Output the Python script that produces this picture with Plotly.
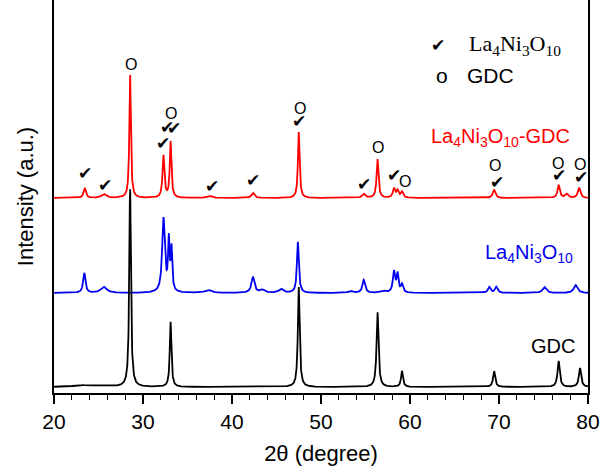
import numpy as np
import plotly.graph_objects as go

# ---------------- data ----------------
two_theta = np.round(np.arange(20.0, 80.0001, 0.02), 3)

# GDC (black)
gdc_offset = 6
gdc_pos = [22.9, 25.0, 28.55, 33.1, 47.5, 56.35, 59.1, 69.45, 76.7, 79.1]
gdc_h   = [1.5, 1.5, 199, 65, 100, 75, 16, 16, 26, 19]
gdc_w   = [1.5, 3.0, 0.22, 0.22, 0.24, 0.26, 0.26, 0.28, 0.30, 0.30]

# La4Ni3O10 (blue)
lno_offset = 100
lno_pos = [23.4, 25.6, 32.3, 32.9, 33.2, 37.3, 42.35, 43.4, 45.5, 47.4, 53.3, 54.8,
           57.0, 58.2, 58.6, 59.1, 68.9, 69.7, 75.1, 78.6]
lno_h   = [20, 6, 74, 50, 42, 3, 16, 3, 4, 51, 2, 13, 2, 21, 18, 8, 6, 6, 6, 8]
lno_w   = [0.30, 0.8, 0.35, 0.2, 0.2, 0.8, 0.40, 0.6, 0.6, 0.25, 0.6, 0.35,
           0.6, 0.30, 0.25, 0.3, 0.35, 0.35, 0.5, 0.5]

# La4Ni3O10-GDC (red)
mix_offset = 195
mix_pos = [23.45, 25.6, 28.55, 32.3, 33.1, 37.5, 42.35, 47.5, 54.8, 56.35,
           58.2, 58.6, 59.1, 69.45, 76.7, 77.6, 79.0]
mix_h   = [10, 4, 124, 42, 56, 2, 5, 66, 4, 39, 9, 7, 6, 8, 13, 4, 10]
mix_w   = [0.30, 0.6, 0.20, 0.25, 0.22, 0.6, 0.4, 0.22, 0.4, 0.25,
           0.3, 0.3, 0.3, 0.35, 0.3, 0.4, 0.35]

# Phase markers (✔ = La4Ni3O10, O = GDC)
check_x = [23.49, 25.74, 32.27, 32.73, 33.51, 37.79, 42.41, 47.48, 54.8, 58.18, 69.74, 76.76, 79.23]
check_y = [220, 208, 250, 266, 265, 207, 213, 272, 209, 218, 211, 218, 216]
circ_x = [28.67, 33.14, 47.59, 56.37, 59.41, 69.55, 76.61, 79.12]
circ_y = [329, 280, 285, 246, 212, 228, 230, 229]

x_ticks = [20, 30, 40, 50, 60, 70, 80]


def pattern(pos, h, w, offset):
    y = np.full_like(two_theta, float(offset))
    for p, a, fw in zip(pos, h, w):
        g = (fw / 2) ** 2
        y += a * g / ((two_theta - p) ** 2 + g)
    return y


SANS = "Arial, Liberation Sans, sans-serif"
SERIF = "Times New Roman, Liberation Serif, serif"

fig = go.Figure()
fig.add_trace(go.Scatter(x=two_theta, y=pattern(lno_pos, lno_h, lno_w, lno_offset),
                         mode="lines", line=dict(color="#0000ee", width=1.8), name="La4Ni3O10"))
fig.add_trace(go.Scatter(x=two_theta, y=pattern(mix_pos, mix_h, mix_w, mix_offset),
                         mode="lines", line=dict(color="#ff0000", width=1.8), name="La4Ni3O10-GDC"))
fig.add_trace(go.Scatter(x=two_theta, y=pattern(gdc_pos, gdc_h, gdc_w, gdc_offset),
                         mode="lines", line=dict(color="#000000", width=1.8), name="GDC"))

ann = []
for cx, cy in zip(check_x, check_y):
    ann.append(dict(x=cx, y=cy, text="✔", showarrow=False, xref="x", yref="y",
                    xanchor="center", yanchor="middle",
                    font=dict(family="DejaVu Sans", size=17, color="black")))
for cx, cy in zip(circ_x, circ_y):
    ann.append(dict(x=cx, y=cy, text="O", showarrow=False, xref="x", yref="y",
                    xanchor="center", yanchor="middle",
                    font=dict(family=SANS, size=16, color="black")))

# series labels
ann.append(dict(x=500, y=393 - 137, xref="paper", yref="y", text="La<sub>4</sub>Ni<sub>3</sub>O<sub>10</sub>-GDC",
                xanchor="center", showarrow=False, font=dict(family=SANS, size=20, color="#ff0000")))
ann.append(dict(x=529, y=393 - 253, xref="paper", yref="y", text="La<sub>4</sub>Ni<sub>3</sub>O<sub>10</sub>",
                xanchor="center", showarrow=False, font=dict(family=SANS, size=20, color="#0000ee")))
ann.append(dict(x=553, y=393 - 346, xref="paper", yref="y", text="GDC",
                xanchor="center", showarrow=False, font=dict(family=SANS, size=20, color="black")))
# legend key
ann.append(dict(x=438, y=393 - 45, xref="paper", yref="y", text="✔", showarrow=False,
                xanchor="center", font=dict(family="DejaVu Sans", size=17, color="black")))
ann.append(dict(x=467, y=393 - 45, xref="paper", yref="y", text="La<sub>4</sub>Ni<sub>3</sub>O<sub>10</sub>",
                xanchor="left", showarrow=False, font=dict(family=SERIF, size=22, color="black")))
ann.append(dict(x=442, y=393 - 75, xref="paper", yref="y", text="o", showarrow=False,
                xanchor="center", font=dict(family=SANS, size=21, color="black")))
ann.append(dict(x=465, y=393 - 75, xref="paper", yref="y", text="GDC",
                xanchor="left", showarrow=False, font=dict(family=SANS, size=21, color="black")))

# convert pixel-x of labels to paper coordinates
L, R = 54, 588
for a in ann:
    if a.get("xref") == "paper":
        a["x"] = (a["x"] - L) / (R - L)

fig.update_layout(
    width=601, height=466,
    margin=dict(l=L, r=601 - R, t=0, b=73),
    paper_bgcolor="white", plot_bgcolor="white",
    showlegend=False,
    annotations=ann,
    font=dict(family=SANS, color="black"),
)
fig.update_xaxes(
    range=[20, 80], tickvals=x_ticks, ticktext=[str(t) for t in x_ticks],
    ticks="outside", ticklen=9, tickwidth=1.5, tickcolor="black",
    minor=dict(dtick=2, ticks="outside", ticklen=5, tickwidth=1.2, tickcolor="black"),
    showline=True, linecolor="black", linewidth=2, mirror=False,
    showgrid=False, zeroline=False,
    tickfont=dict(family=SANS, size=21),
    title=dict(text="2θ (degree)", font=dict(family=SANS, size=22), standoff=16),
)
fig.update_yaxes(
    range=[0, 393], showticklabels=False, ticks="",
    showline=True, linecolor="black", linewidth=2, mirror=True,
    showgrid=False, zeroline=False,
    title=dict(text="Intensity (a.u.)", font=dict(family=SANS, size=22), standoff=12),
)

fig.write_html("out.html")
